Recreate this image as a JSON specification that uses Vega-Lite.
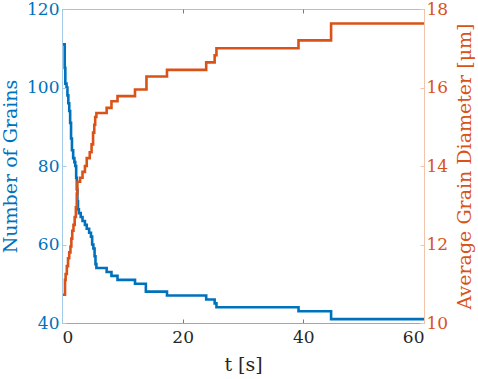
{
  "$schema": "https://vega.github.io/schema/vega-lite/v6.json",
  "width": 362,
  "height": 314,
  "autosize": {"type": "none"},
  "padding": {"left": 62, "top": 9, "right": 54, "bottom": 56},
  "background": "white",
  "config": {
    "view": {"stroke": "#bdbdbd", "strokeWidth": 1},
    "font": "DejaVu Serif",
    "axis": {"grid": false, "labelFontSize": 17, "titleFontSize": 19, "titleFontWeight": "normal"}
  },
  "datasets": {
    "grains": [
      {"t": 0, "n": 111}, {"t": 0.45, "n": 105}, {"t": 0.55, "n": 101}, {"t": 0.75, "n": 100},
      {"t": 0.9, "n": 98}, {"t": 1.05, "n": 96}, {"t": 1.2, "n": 94}, {"t": 1.35, "n": 91},
      {"t": 1.5, "n": 87}, {"t": 1.65, "n": 84}, {"t": 1.85, "n": 82}, {"t": 2.05, "n": 81},
      {"t": 2.2, "n": 80}, {"t": 2.35, "n": 77}, {"t": 2.45, "n": 74}, {"t": 2.55, "n": 71},
      {"t": 2.65, "n": 69}, {"t": 2.8, "n": 68}, {"t": 3.1, "n": 67}, {"t": 3.4, "n": 66},
      {"t": 3.8, "n": 65}, {"t": 4.1, "n": 64}, {"t": 4.5, "n": 63}, {"t": 4.8, "n": 62},
      {"t": 5.0, "n": 60}, {"t": 5.2, "n": 59}, {"t": 5.4, "n": 57}, {"t": 5.55, "n": 55},
      {"t": 5.7, "n": 54}, {"t": 7.4, "n": 53}, {"t": 8.2, "n": 52}, {"t": 9.2, "n": 51},
      {"t": 12.1, "n": 50}, {"t": 13.9, "n": 48}, {"t": 17.4, "n": 47}, {"t": 23.9, "n": 46},
      {"t": 25.3, "n": 45}, {"t": 25.6, "n": 44}, {"t": 39.2, "n": 43}, {"t": 44.6, "n": 41},
      {"t": 60, "n": 41}
    ],
    "diameter": [
      {"t": 0, "d": 10.72}, {"t": 0.5, "d": 11.1}, {"t": 0.6, "d": 11.25}, {"t": 0.8, "d": 11.45},
      {"t": 1.0, "d": 11.65}, {"t": 1.2, "d": 11.8}, {"t": 1.4, "d": 11.95}, {"t": 1.55, "d": 12.15},
      {"t": 1.7, "d": 12.35}, {"t": 1.9, "d": 12.5}, {"t": 2.1, "d": 12.7}, {"t": 2.3, "d": 12.95},
      {"t": 2.45, "d": 13.3}, {"t": 2.55, "d": 13.6}, {"t": 3.0, "d": 13.7}, {"t": 3.4, "d": 13.85},
      {"t": 3.8, "d": 14.0}, {"t": 4.1, "d": 14.2}, {"t": 4.6, "d": 14.35}, {"t": 4.9, "d": 14.55},
      {"t": 5.15, "d": 14.85}, {"t": 5.35, "d": 15.05}, {"t": 5.5, "d": 15.25}, {"t": 5.7, "d": 15.35},
      {"t": 7.4, "d": 15.48}, {"t": 8.2, "d": 15.65}, {"t": 9.2, "d": 15.78}, {"t": 12.1, "d": 15.95},
      {"t": 14.0, "d": 16.28}, {"t": 17.4, "d": 16.45}, {"t": 23.9, "d": 16.64}, {"t": 25.3, "d": 16.82},
      {"t": 25.6, "d": 17.0}, {"t": 39.2, "d": 17.2}, {"t": 44.6, "d": 17.63}, {"t": 60, "d": 17.63}
    ]
  },
  "layer": [
    {
      "data": {"name": "grains"},
      "mark": {"type": "line", "interpolate": "step-after", "color": "#0072BD", "strokeWidth": 2.6},
      "encoding": {
        "x": {
          "field": "t", "type": "quantitative",
          "scale": {"domain": [0, 60], "nice": false, "zero": false},
          "axis": {
            "orient": "bottom", "title": "t [s]", "values": [0, 20, 40, 60],
            "labelFont": "DejaVu Serif", "titleFont": "DejaVu Serif",
            "tickSize": -4, "labelPadding": 10, "domainColor": "#a6a6a6", "tickColor": "#7a7a7a",
            "labelColor": "#262626", "titleColor": "#262626",
            "titleX": 181, "titleY": 47, "titleBaseline": "alphabetic"
          }
        },
        "y": {
          "field": "n", "type": "quantitative",
          "scale": {"domain": [40, 120], "nice": false, "zero": false},
          "axis": {
            "orient": "left", "title": "Number of Grains", "values": [40, 60, 80, 100, 120],
            "labelFont": "DejaVu Serif", "titleFont": "DejaVu Serif",
            "tickSize": -4, "labelPadding": 7, "domainColor": "#a3cbe8", "tickColor": "#a3cbe8",
            "labelColor": "#0072BD", "titleColor": "#0072BD", "zindex": 1,
            "titleAngle": -90, "titleX": -46, "titleY": 157, "titleBaseline": "alphabetic", "titleAlign": "center"
          }
        }
      }
    },
    {
      "data": {"name": "diameter"},
      "mark": {"type": "line", "interpolate": "step-after", "color": "#D95319", "strokeWidth": 2.6},
      "encoding": {
        "x": {
          "field": "t", "type": "quantitative",
          "axis": {"orient": "top", "title": null, "labels": false, "domain": false, "values": [0, 20, 40, 60], "tickSize": -4, "tickColor": "#7a7a7a"}
        },
        "y": {
          "field": "d", "type": "quantitative",
          "scale": {"domain": [10, 18], "nice": false, "zero": false},
          "axis": {
            "orient": "right", "title": "Average Grain Diameter [μm]", "values": [10, 12, 14, 16, 18],
            "labelFont": "DejaVu Serif", "titleFont": "DejaVu Serif",
            "tickSize": -4, "labelPadding": 6, "domainColor": "#f2c4ab", "tickColor": "#f2c4ab",
            "labelColor": "#D95319", "titleColor": "#D95319", "zindex": 1,
            "titleAngle": -90, "titleX": 46, "titleY": 157, "titleBaseline": "alphabetic", "titleAlign": "center"
          }
        }
      }
    }
  ],
  "resolve": {"scale": {"y": "independent"}, "axis": {"x": "independent", "y": "independent"}}
}
